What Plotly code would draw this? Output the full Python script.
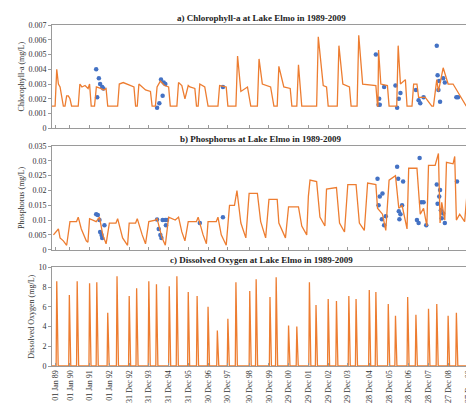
import plotly.graph_objects as go

# time axis: years since 01 Jan 1989 (approximate positions of the date labels)
tick_labels = ["01 Jan 89", "01 Jan 90", "01 Jan 91", "01 Jan 92", "31 Dec 92", "31 Dec 93",
               "31 Dec 94", "31 Dec 95", "30 Dec 96", "30 Dec 97", "30 Dec 98", "30 Dec 99",
               "29 Dec 00", "29 Dec 01", "29 Dec 02", "29 Dec 03", "28 Dec 04", "28 Dec 05",
               "28 Dec 06", "28 Dec 07", "27 Dec 08", "27 Dec 09"]
tick_pos = [0, 0.72, 1.67, 2.63, 3.59, 4.54, 5.5, 6.45, 7.41, 8.37, 9.4, 10.36, 11.31, 12.27,
            13.23, 14.18, 15.22, 16.18, 17.13, 18.09, 19.04, 20.0]

# chlorophyll-a model
chl_t = [-0.2, 0.0, 0.08, 0.16, 0.24, 0.4, 0.48, 0.56, 0.64, 0.72, 0.8, 0.88, 1.12, 1.2, 1.3, 1.45, 1.6, 1.67, 1.75,
         1.91, 2.0, 2.2, 2.35, 2.47, 2.55, 3.03, 3.11, 3.3, 3.6, 3.82, 3.9, 3.98, 4.06, 4.2, 4.38, 4.62, 4.7,
         4.86, 4.94, 5.1, 5.3, 5.5, 5.58, 5.9, 5.98, 6.14, 6.29, 6.45, 6.53, 6.77, 6.85, 6.93, 7.01, 7.25, 7.41,
         7.89, 7.97, 8.29, 8.37, 8.76, 8.84, 9.0, 9.32, 9.48, 9.8, 9.88, 10.04, 10.44, 10.6, 10.76, 10.84, 11.08,
         11.39, 11.47, 11.71, 11.79, 11.95, 12.67, 12.75, 12.99, 13.15, 13.23, 13.67, 13.75, 13.94, 14.26, 14.34,
         14.63, 14.71, 14.9, 15.54, 15.62, 15.64, 15.67, 15.78, 16.1, 16.18, 16.55, 16.62, 16.73, 16.97, 17.05,
         17.29, 17.37, 17.53, 17.61, 17.93, 18.25, 18.33, 18.49, 18.57, 18.8, 19.04, 19.28, 19.92, 20.08]
chl_v = [0.0015, 0.0015, 0.004, 0.003, 0.0028, 0.0015, 0.0015, 0.0022, 0.0022, 0.002, 0.0015, 0.0015, 0.0015, 0.003,
         0.0028, 0.0029, 0.0027, 0.003, 0.0015, 0.0015, 0.0028, 0.0027, 0.0026, 0.0027, 0.0015, 0.0015, 0.003,
         0.0031, 0.0029, 0.0028, 0.0015, 0.0015, 0.003, 0.0028, 0.0026, 0.0025, 0.0015, 0.0015, 0.0028, 0.0032,
         0.0029, 0.0028, 0.0015, 0.0015, 0.0031, 0.0029, 0.002, 0.0029, 0.0028, 0.0027, 0.0015, 0.0015, 0.003,
         0.0028, 0.0015, 0.0015, 0.0029, 0.0028, 0.0015, 0.0015, 0.0049, 0.0025, 0.0028, 0.0015, 0.0015, 0.0047,
         0.003, 0.0028, 0.0015, 0.0015, 0.0042, 0.0028, 0.0027, 0.0015, 0.0015, 0.0043, 0.0015, 0.0015, 0.0062,
         0.0029, 0.0028, 0.0015, 0.0015, 0.0056, 0.003, 0.0028, 0.0015, 0.0015, 0.0063, 0.003, 0.0029, 0.0015,
         0.0015, 0.0053, 0.003, 0.0029, 0.0015, 0.0015, 0.0056, 0.003, 0.0033, 0.0015, 0.0015, 0.003, 0.003,
         0.0021, 0.0021, 0.0015, 0.0015, 0.0033, 0.0025, 0.0041, 0.003, 0.003, 0.0015]
chl_obs_t = [1.99, 2.04, 2.12, 2.18, 2.28, 2.34, 4.94, 5.05, 5.13, 5.21, 5.26, 5.34, 8.13, 15.54, 15.67, 15.7, 15.73,
             15.94, 16.49, 16.57, 16.65, 16.73, 17.48, 17.61, 17.69, 17.85, 18.49, 18.53, 18.57, 18.6, 18.65, 18.8,
             18.88, 19.44, 19.52]
chl_obs_v = [0.004, 0.0021, 0.0034, 0.003, 0.0028, 0.0027, 0.0014, 0.0017, 0.0033, 0.0022, 0.0031, 0.003, 0.0028,
             0.005, 0.0016, 0.002, 0.0016, 0.0028, 0.0029, 0.0014, 0.002, 0.0024, 0.0026, 0.0019, 0.0017, 0.0021,
             0.0056, 0.0036, 0.0026, 0.0032, 0.0018, 0.0034, 0.0031, 0.0021, 0.0021]

# phosphorus model
p_t = [-0.08, 0.16, 0.24, 0.4, 0.56, 0.72, 1.04, 1.12, 1.27, 1.51, 1.59, 1.67, 1.99, 2.15, 2.31, 2.47, 2.63, 2.95,
       3.03, 3.27, 3.51, 3.59, 3.9, 3.98, 4.22, 4.38, 4.54, 4.86, 4.94, 5.18, 5.34, 5.5, 5.82, 5.98, 6.14, 6.29,
       6.45, 6.85, 6.93, 7.17, 7.33, 7.41, 7.81, 7.89, 8.05, 8.29, 8.45, 8.69, 8.81, 9.0, 9.24, 9.4, 9.8, 9.96,
       10.2, 10.36, 10.76, 10.84, 11.16, 11.31, 11.79, 11.95, 12.19, 12.27, 12.35, 12.67, 12.83, 13.07, 13.15,
       13.63, 13.78, 14.02, 14.18, 14.58, 14.74, 14.98, 15.14, 15.54, 15.62, 15.86, 16.02, 16.18, 16.49, 16.65,
       16.81, 17.05, 17.13, 17.53, 17.69, 17.85, 18.01, 18.09, 18.41, 18.57, 18.65, 18.73, 18.88, 18.96, 19.28,
       19.36, 19.44, 19.6, 19.84, 20.08]
p_v = [0.005, 0.007, 0.004, 0.003, 0.0015, 0.0095, 0.0095, 0.011, 0.007, 0.003, 0.0025, 0.0105, 0.0095, 0.011,
       0.005, 0.002, 0.009, 0.009, 0.0105, 0.004, 0.0015, 0.009, 0.009, 0.0105, 0.005, 0.002, 0.0095, 0.01, 0.0105,
       0.004, 0.0015, 0.011, 0.01, 0.011, 0.006, 0.003, 0.0095, 0.0095, 0.011, 0.005, 0.002, 0.0095, 0.0095, 0.011,
       0.005, 0.0015, 0.015, 0.015, 0.02, 0.009, 0.004, 0.019, 0.019, 0.0095, 0.004, 0.017, 0.017, 0.009, 0.004,
       0.0145, 0.0145, 0.008, 0.005, 0.018, 0.0235, 0.023, 0.011, 0.008, 0.0205, 0.021, 0.009, 0.006, 0.022, 0.022,
       0.009, 0.0065, 0.0225, 0.022, 0.014, 0.012, 0.0065, 0.0235, 0.025, 0.014, 0.015, 0.007, 0.0275, 0.0275,
       0.012, 0.014, 0.008, 0.0285, 0.0285, 0.0325, 0.009, 0.016, 0.01, 0.0295, 0.029, 0.0315, 0.01, 0.012,
       0.0095, 0.029]
p_obs_t = [1.99, 2.07, 2.15, 2.18, 2.25, 2.28, 2.39, 4.94, 5.02, 5.1, 5.15, 5.21, 5.34, 5.37, 5.42, 7.01, 8.13,
           15.62, 15.67, 15.73, 15.83, 15.86, 15.94, 16.02, 16.57, 16.62, 16.65, 16.68, 16.73, 16.81, 16.86, 17.53,
           17.61, 17.66, 17.74, 17.85, 17.98, 18.49, 18.53, 18.61, 18.65, 18.69, 18.73, 18.8, 18.88, 19.47]
p_obs_v = [0.012, 0.0117, 0.01, 0.006, 0.005, 0.004, 0.0083, 0.0102, 0.007, 0.005, 0.004, 0.01, 0.01, 0.0083, 0.01,
           0.009, 0.011, 0.024, 0.015, 0.018, 0.0103, 0.019, 0.0083, 0.0113, 0.028, 0.024, 0.013, 0.0103, 0.012,
           0.015, 0.023, 0.01, 0.009, 0.031, 0.016, 0.016, 0.0083, 0.022, 0.0155, 0.018, 0.0202, 0.0133, 0.0106,
           0.0122, 0.009, 0.023]

# dissolved oxygen peaks (zero in between)
do_t = [0.08, 0.69, 1.07, 1.67, 2.02, 2.55, 3.0, 3.59, 3.95, 4.54, 4.91, 5.53, 5.9, 6.45, 6.88, 7.41, 7.86, 8.37,
        8.76, 9.43, 9.74, 10.41, 10.71, 11.31, 11.71, 12.32, 12.64, 13.23, 13.63, 14.23, 14.58, 15.22, 15.54,
        16.14, 16.49, 17.08, 17.48, 18.09, 18.49, 19.04, 19.44, 20.03]
do_v = [8.6, 7.2, 8.6, 8.4, 8.5, 5.4, 9.1, 7.1, 7.9, 8.6, 8.3, 8.1, 9.1, 7.5, 7.1, 6.0, 3.6, 4.8, 8.5, 7.6, 8.8,
        7.0, 9.0, 4.1, 4.0, 8.5, 6.2, 6.8, 6.6, 7.1, 6.8, 7.7, 7.5, 6.3, 5.1, 7.0, 5.2, 5.8, 6.3, 5.1, 5.4, 6.7]

do_x, do_y = [-0.2], [0]
for t, v in zip(do_t, do_v):
    do_x += [t - 0.03, t, t + 0.07]
    do_y += [0, v, 0]

ORANGE = "#ED7D31"
BLUE = "#4472C4"
SERIF = "Liberation Serif"

fig = go.Figure()
fig.add_trace(go.Scatter(x=chl_obs_t, y=chl_obs_v, mode="markers", marker=dict(color=BLUE, size=4.5),
                         xaxis="x", yaxis="y"))
fig.add_trace(go.Scatter(x=chl_t, y=chl_v, mode="lines", line=dict(color=ORANGE, width=1.3),
                         xaxis="x", yaxis="y"))
fig.add_trace(go.Scatter(x=p_obs_t, y=p_obs_v, mode="markers", marker=dict(color=BLUE, size=4.5),
                         xaxis="x2", yaxis="y2"))
fig.add_trace(go.Scatter(x=p_t, y=p_v, mode="lines", line=dict(color=ORANGE, width=1.3),
                         xaxis="x2", yaxis="y2"))
fig.add_trace(go.Scatter(x=do_x, y=do_y, mode="lines", line=dict(color=ORANGE, width=1.3),
                         xaxis="x3", yaxis="y3"))

xcommon = dict(range=[-0.15, 20.1], tickvals=tick_pos, showgrid=False, zeroline=False,
               showline=True, mirror=True, linecolor="#9a9a9a", ticks="inside", ticklen=3,
               tickcolor="#9a9a9a")
ycommon = dict(showgrid=False, zeroline=False, showline=True, mirror=True, linecolor="#9a9a9a",
               ticks="outside", ticklen=3, tickcolor="#9a9a9a", tickfont=dict(size=8, family=SERIF))

fig.update_layout(
    width=474, height=404, showlegend=False, plot_bgcolor="white", paper_bgcolor="white",
    margin=dict(l=44, r=9, t=17, b=41),
    font=dict(family=SERIF, color="#333333"),
    xaxis=dict(xcommon, domain=[0, 1], anchor="y", showticklabels=False),
    xaxis2=dict(xcommon, domain=[0, 1], anchor="y2", showticklabels=False),
    xaxis3=dict(xcommon, domain=[0, 1], anchor="y3", ticktext=tick_labels, tickangle=-90,
                tickfont=dict(size=8, family=SERIF)),
    yaxis=dict(ycommon, domain=[0.697, 1], range=[0, 0.007], dtick=0.001, tickformat=".3~f",
               title=dict(text="Chlorophyll-a (mg/L)", font=dict(size=8), standoff=2)),
    yaxis2=dict(ycommon, domain=[0.341, 0.645], range=[0, 0.035], dtick=0.005, tickformat=".3~f",
                title=dict(text="Phosphorus (mg/L)", font=dict(size=8), standoff=2)),
    yaxis3=dict(ycommon, domain=[0, 0.289], range=[0, 10], dtick=2,
                title=dict(text="Dissolved Oxygen (mg/L)", font=dict(size=8), standoff=2)),
)

titles = [("a) Chlorophyll-a at Lake Elmo in 1989-2009", 1.0),
          ("b) Phosphorus at Lake Elmo in 1989-2009", 0.645),
          ("c) Dissolved Oxygen at Lake Elmo in 1989-2009", 0.289)]
for text, y in titles:
    fig.add_annotation(text="<b>" + text + "</b>", xref="paper", yref="paper", x=0.5, y=y,
                       yanchor="bottom", showarrow=False, font=dict(size=9, family=SERIF, color="#222222"))

fig.write_html("out.html")
